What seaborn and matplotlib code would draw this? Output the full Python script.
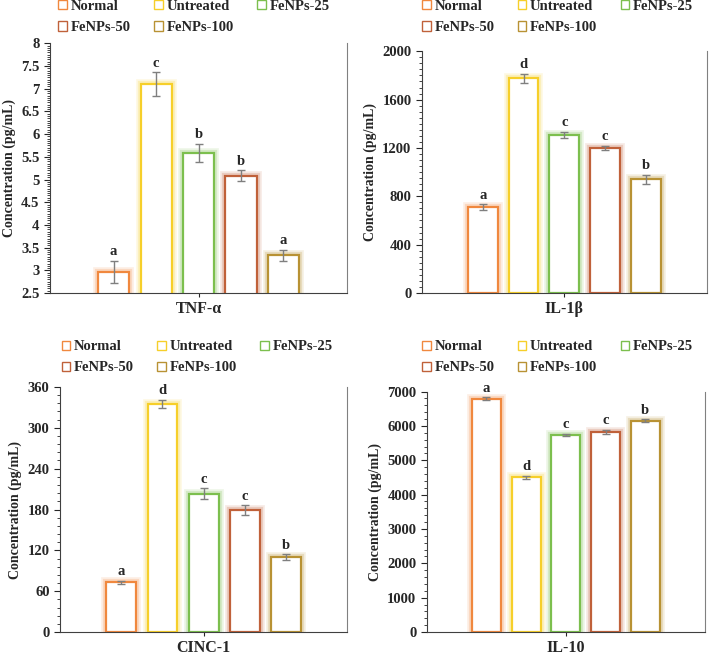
import numpy as np
import pandas as pd
import matplotlib
matplotlib.use("Agg")
import matplotlib.pyplot as plt
import matplotlib.patheffects as pe
from matplotlib.patches import Patch
from matplotlib.ticker import MultipleLocator, FuncFormatter
import seaborn as sns

sns.set_theme(style="ticks")
plt.rcParams['font.family'] = ['Liberation Serif', 'DejaVu Serif']
plt.rcParams['font.weight'] = 'bold'
plt.rcParams['axes.labelweight'] = 'bold'

# ---- data ----
groups = ["Normal", "Untreated", "FeNPs-25", "FeNPs-50", "FeNPs-100"]
colors = ["#F0883E", "#F6CF2A", "#7CBF4E", "#C0613A", "#B89234"]

tnf_mean = [2.97, 7.10, 5.58, 5.08, 3.33]
tnf_err = [0.24, 0.26, 0.20, 0.12, 0.12]
tnf_letters = ["a", "c", "b", "b", "a"]

il1b_mean = [708, 1775, 1310, 1200, 940]
il1b_err = [25, 40, 25, 20, 35]
il1b_letters = ["a", "d", "c", "c", "b"]

cinc_mean = [73, 335, 203, 179, 110]
cinc_err = [2, 6, 8, 7, 4]
cinc_letters = ["a", "d", "c", "c", "b"]

il10_mean = [6790, 4500, 5730, 5830, 6150]
il10_err = [40, 40, 30, 60, 40]
il10_letters = ["a", "d", "c", "c", "b"]

panels = [
    # name, means, errs, letters, ylim, major, minor, axes rect, legend anchor
    ("TNF-α", tnf_mean, tnf_err, tnf_letters, (2.5, 8), 0.5, 0.05,
     [0.0705, 0.554, 0.419, 0.380], (0.082, 1.0)),
    ("IL-1β", il1b_mean, il1b_err, il1b_letters, (0, 2000), 400, 50,
     [0.595, 0.554, 0.402, 0.368], (0.595, 1.0)),
    ("CINC-1", cinc_mean, cinc_err, cinc_letters, (0, 360), 60, 12,
     [0.0846, 0.038, 0.405, 0.373], (0.087, 0.482)),
    ("IL-10", il10_mean, il10_err, il10_letters, (0, 7000), 1000, 200,
     [0.602, 0.038, 0.392, 0.366], (0.595, 0.482)),
]

# legend is filled column by column -> order so rows read like the original
legend_order = [0, 3, 1, 4, 2]

fig = plt.figure(figsize=(7.09, 6.57), dpi=100)

for name, means, errs, letters, ylim, major, minor, rect, anchor in panels:
    ax = fig.add_axes(rect)
    df = pd.DataFrame({"cytokine": name, "group": groups, "value": means})
    sns.barplot(data=df, x="cytokine", y="value", hue="group", hue_order=groups,
                palette=colors, errorbar=None, width=0.715, gap=0.27,
                legend=False, ax=ax)

    # outline bars with soft glow
    for patch, c, m, e, lt in zip(ax.patches, colors, means, errs, letters):
        patch.set_facecolor("white")
        patch.set_edgecolor(c)
        patch.set_linewidth(1.6)
        patch.set_path_effects([
            pe.Stroke(linewidth=7, foreground=c, alpha=0.13),
            pe.Stroke(linewidth=4.5, foreground=c, alpha=0.22),
            pe.Normal(),
        ])
        xc = patch.get_x() + patch.get_width() / 2
        ax.errorbar(xc, m, yerr=e, color="#7f7f7f", lw=1, capsize=3,
                    capthick=1, zorder=5)
        ax.annotate(lt, (xc, m + e), xytext=(0, 2), textcoords="offset points",
                    ha="center", va="bottom", fontsize=10.5, fontweight="bold")

    ax.set_ylim(*ylim)
    ax.set_xlim(-0.5, 0.5)
    ax.yaxis.set_major_locator(MultipleLocator(major))
    ax.yaxis.set_minor_locator(MultipleLocator(minor))
    ax.yaxis.set_major_formatter(FuncFormatter(lambda v, p: f"{v:g}"))
    ax.tick_params(axis="y", which="major", length=4, width=0.8, labelsize=10.5)
    ax.tick_params(axis="y", which="minor", length=2, width=0.6)
    ax.tick_params(axis="x", length=3, width=0.8, labelsize=11.5, pad=2.5)
    for t in ax.get_xticklabels() + ax.get_yticklabels():
        t.set_fontweight("bold")
    ax.set_xlabel("")
    ax.set_ylabel("Concentration (pg/mL)", fontsize=10, fontweight="bold")
    ax.spines["top"].set_visible(False)
    for s in ["left", "bottom", "right"]:
        ax.spines[s].set_color("#404040")
        ax.spines[s].set_linewidth(0.8)
    ax.spines["right"].set_color("#808080")

    handles = [Patch(facecolor="white", edgecolor=c, linewidth=1) for c in colors]
    ax.legend([handles[i] for i in legend_order], [groups[i] for i in legend_order],
              ncol=3, loc="upper left", bbox_to_anchor=anchor,
              bbox_transform=fig.transFigure, frameon=False, borderpad=0,
              borderaxespad=0, handlelength=0.6, handleheight=0.6,
              handletextpad=0.25, columnspacing=1.6, labelspacing=0.55,
              prop={"size": 10.5, "weight": "bold"})

fig.savefig("out.png", dpi=100)
